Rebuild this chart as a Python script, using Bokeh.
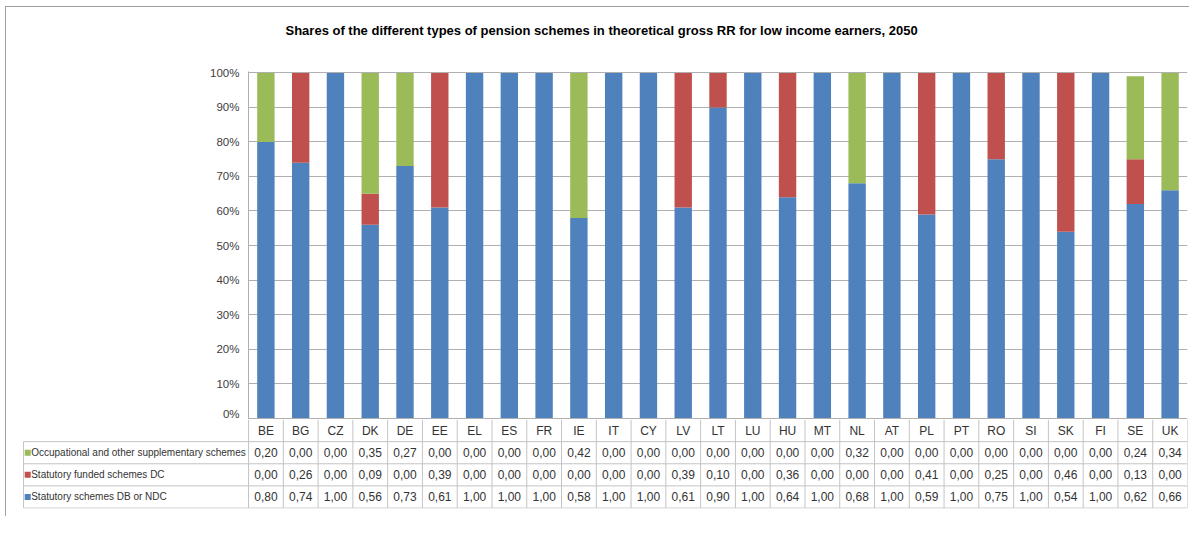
from bokeh.plotting import figure
from bokeh.models import (FactorRange, Range1d, Title, NumeralTickFormatter, FixedTicker,
                          ColumnDataSource)
from bokeh.layouts import column
from bokeh.core.properties import value
from bokeh.embed import file_html
from bokeh.resources import INLINE

countries = ["BE", "BG", "CZ", "DK", "DE", "EE", "EL", "ES", "FR", "IE", "IT", "CY", "LV", "LT",
             "LU", "HU", "MT", "NL", "AT", "PL", "PT", "RO", "SI", "SK", "FI", "SE", "UK"]
occupational = [0.20, 0.00, 0.00, 0.35, 0.27, 0.00, 0.00, 0.00, 0.00, 0.42, 0.00, 0.00, 0.00, 0.00,
                0.00, 0.00, 0.00, 0.32, 0.00, 0.00, 0.00, 0.00, 0.00, 0.00, 0.00, 0.24, 0.34]
funded_dc = [0.00, 0.26, 0.00, 0.09, 0.00, 0.39, 0.00, 0.00, 0.00, 0.00, 0.00, 0.00, 0.39, 0.10,
             0.00, 0.36, 0.00, 0.00, 0.00, 0.41, 0.00, 0.25, 0.00, 0.46, 0.00, 0.13, 0.00]
statutory = [0.80, 0.74, 1.00, 0.56, 0.73, 0.61, 1.00, 1.00, 1.00, 0.58, 1.00, 1.00, 0.61, 0.90,
             1.00, 0.64, 1.00, 0.68, 1.00, 0.59, 1.00, 0.75, 1.00, 0.54, 1.00, 0.62, 0.66]
series_names = ["Occupational and other supplementary schemes",
                "Statutory funded schemes DC",
                "Statutory schemes DB or NDC"]
colors = {"occ": "#9bbb59", "dc": "#c0504d", "db": "#4f81bd"}
title_text = "Shares of the different types of pension schemes in theoretical gross RR for low income earners, 2050"

FONT = "Liberation Sans"
TXT = "#333333"
GRID = "#b0b0b0"
TGRID = "#c4c4c4"

OX, OY = 6, 7          # page offset of the framed layout
W = 1187 - OX + 2
LEFT = 248 - OX
RIGHT = 2

# ---------------- chart ----------------
p = figure(width=W, height=419 - OY, x_range=FactorRange(*countries), y_range=Range1d(-0.004, 1.004),
           output_backend="svg", toolbar_location=None, x_axis_location=None,
           min_border_left=LEFT, min_border_right=RIGHT, min_border_top=71 - OY, min_border_bottom=0)
p.frame_align = False
p.outline_line_color = None
src = ColumnDataSource(dict(country=countries, db=statutory, dc=funded_dc, occ=occupational))
p.vbar_stack(["db", "dc", "occ"], x="country", width=0.5, source=src,
             color=[colors["db"], colors["dc"], colors["occ"]], line_color=None)
p.xgrid.grid_line_color = None
p.ygrid.grid_line_color = GRID
p.ygrid.ticker = FixedTicker(ticks=[i / 10 for i in range(11)])
ax = p.yaxis[0]
ax.ticker = FixedTicker(ticks=[i / 10 for i in range(11)])
ax.formatter = NumeralTickFormatter(format="0%")
ax.major_label_text_font = FONT
ax.major_label_text_font_size = "11.5px"
ax.major_label_text_color = "#404040"
ax.axis_line_color = GRID
ax.major_tick_out = 0
ax.major_tick_in = 0
ax.minor_tick_out = 0
ax.minor_tick_in = 0
ax.major_label_standoff = 9

spacer = Title(text=" ", text_font=FONT, text_font_size="13px", standoff=5)
p.add_layout(spacer, "above")
t = Title(text=title_text, align="left", offset=37, text_font=FONT, text_font_size="13px",
          text_font_style="bold", text_color="#000000", standoff=20, vertical_align="top")
p.add_layout(t, "above")

# ---------------- data table ----------------
n = len(countries)
label_left = -6.47
q = figure(width=W, height=97, x_range=Range1d(-6.5, n), y_range=Range1d(-4.02, 0),
           output_backend="svg", toolbar_location=None, x_axis_location=None, y_axis_location=None,
           min_border_left=22 - OX, min_border_right=RIGHT, min_border_top=0, min_border_bottom=8)
q.frame_align = False
q.outline_line_color = None
q.grid.visible = False

hy = [-1, -2, -3, -4]
q.segment(x0=[label_left] * 4, y0=hy, x1=[n] * 4, y1=hy, line_color=TGRID, line_width=1)
vx = list(range(n + 1))
q.segment(x0=vx, y0=[0] * len(vx), x1=vx, y1=[-4] * len(vx), line_color=TGRID, line_width=1)
q.segment(x0=[label_left], y0=[-1], x1=[label_left], y1=[-4], line_color=TGRID, line_width=1)

xc = [i + 0.5 for i in range(n)]
q.text(x=xc, y=[-0.5] * n, text=countries, text_align="center", text_baseline="middle",
       text_font=value(FONT), text_font_size="12px", text_color=TXT)

rows = [occupational, funded_dc, statutory]
row_colors = [colors["occ"], colors["dc"], colors["db"]]
for r, (vals, col, name) in enumerate(zip(rows, row_colors, series_names)):
    yc = -1.5 - r
    q.text(x=xc, y=[yc] * n, text=[f"{v:.2f}".replace(".", ",") for v in vals],
           text_align="center", text_baseline="middle",
           text_font=value(FONT), text_font_size="12px", text_color=TXT)
    q.scatter(x=[label_left + 0.12], y=[yc], marker="square", size=6, color=col, line_color=None)
    q.text(x=[label_left + 0.22], y=[yc], text=[name], text_align="left", text_baseline="middle",
           text_font=value(FONT), text_font_size="10px", text_color=TXT)

layout = column(p, q, spacing=0, margin=(OY - 1, 0, 0, OX - 1),
                styles={"border-top": "1px solid #a0a0a0", "border-left": "1px solid #a0a0a0"})
open("out.html", "w").write(file_html(layout, INLINE))
